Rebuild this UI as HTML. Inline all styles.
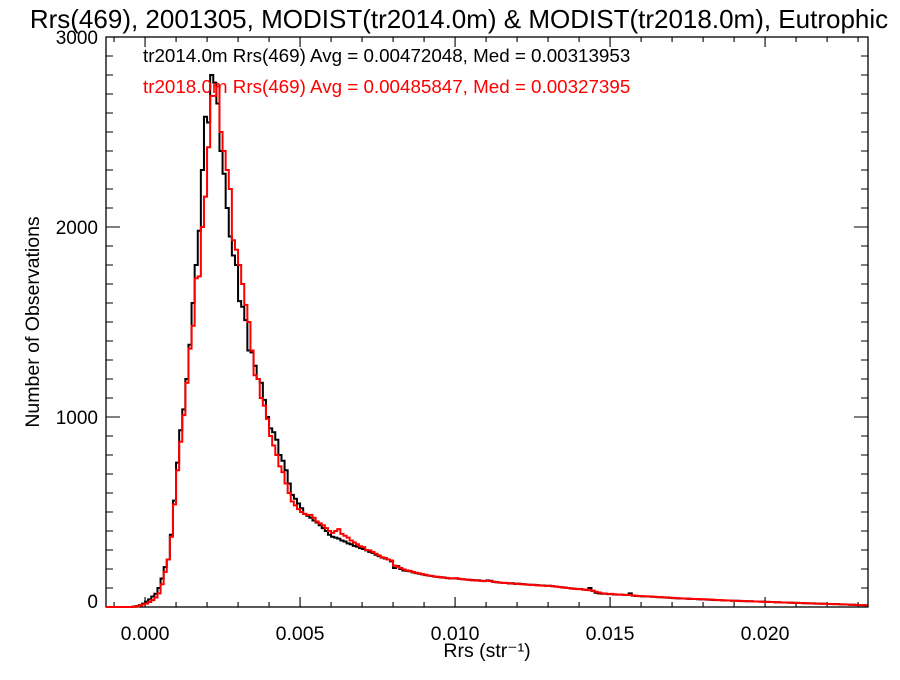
<!DOCTYPE html>
<html><head><meta charset="utf-8"><style>
body{margin:0;background:#fff;}
svg text{font-family:"Liberation Sans",sans-serif;}
</style></head><body>
<svg id="chart" width="900" height="675" xmlns="http://www.w3.org/2000/svg">
<rect width="900" height="675" fill="#fff"/>
<text x="459" y="28" font-size="26" text-anchor="middle">Rrs(469), 2001305, MODIST(tr2014.0m) &amp; MODIST(tr2018.0m), Eutrophic</text>
<text transform="translate(39,322) rotate(-90)" font-size="19.5" text-anchor="middle">Number of Observations</text>
<text x="487" y="657" font-size="19.5" text-anchor="middle">Rrs (str⁻¹)</text>
<g id="axes"></g>
<g id="series"></g>
<text x="143" y="62" font-size="18.8" fill="#000">tr2014.0m Rrs(469) Avg = 0.00472048, Med = 0.00313953</text>
<text x="143" y="93" font-size="18.8" fill="#f00">tr2018.0m Rrs(469) Avg = 0.00485847, Med = 0.00327395</text>
</svg>
<script>
const binStart = -0.0005;
const binWidth = 0.0001;
const xTicks = [0, 0.005, 0.010, 0.015, 0.020];
const xTickLabels = ["0.000","0.005","0.010","0.015","0.020"];
const yTicks = [0, 1000, 2000, 3000];
const yTickLabels = ["0","1000","2000","3000"];
const blackCounts = [0,2,5,10,18,
28,40,55,70,100,150,210,250,380,560,
760,930,1040,1200,1380,1600,1800,1980,2300,2580,
2550,2800,2760,2650,2400,2280,2100,1950,1850,1800,
1610,1580,1510,1350,1340,1270,1200,1180,1090,1000,
940,920,880,800,770,720,650,590,570,545,
520,490,480,470,455,445,430,415,400,380,
370,365,360,350,345,335,330,322,318,310,
305,298,290,285,275,268,260,255,250,240,
205,215,200,192,190,188,182,178,175,172,
168,165,163,160,158,156,155,152,150,150,
150,148,146,145,143,142,140,141,138,136,
140,138,132,130,128,127,126,124,125,122,
123,121,120,118,117,116,115,114,113,112,
112,110,108,106,104,102,100,98,96,95,
95,92,90,100,85,75,72,70,70,68,
68,66,65,66,64,63,72,60,58,57,
56,55,56,54,53,52,51,50,50,48,
47,46,45,45,44,43,42,42,41,40,
40,39,38,37,36,36,35,34,34,33,
33,32,31,31,30,30,29,29,28,28,
27,26,26,25,25,24,24,23,23,22,
22,21,20,20,19,19,18,18,17,17,
16,16,15,15,14,13,13,12,12,11,
10,10,9];
const redCounts = [0,1,4,8,14,
18,26,36,50,72,120,185,250,370,540,
720,870,1010,1180,1360,1480,1730,1740,2000,2160,
2420,2690,2690,2740,2500,2400,2300,2200,1930,1880,
1800,1700,1590,1500,1350,1220,1200,1100,1060,990,
900,850,800,740,710,650,600,555,535,515,
500,490,485,485,470,450,440,430,415,400,
390,400,410,385,375,365,350,340,330,320,
315,300,298,290,280,272,262,258,250,245,
218,212,205,198,193,190,185,180,177,173,
170,166,164,160,159,157,154,153,151,150,
152,148,147,144,144,140,141,139,137,137,
138,136,133,131,129,126,127,125,123,123,
122,120,119,118,116,117,114,113,112,111,
111,109,107,105,103,101,100,97,96,94,
94,91,92,88,86,80,76,72,71,69,
69,67,66,65,64,63,64,61,59,58,
57,56,55,55,53,52,52,51,49,49,
48,47,46,45,45,44,43,42,42,41,
40,40,39,38,37,37,35,35,34,33,
33,32,32,31,30,30,29,29,28,27,
27,27,26,25,25,24,24,23,22,22,
22,21,21,20,19,19,18,18,17,17,
16,16,15,15,14,14,13,12,12,11,
10,10,9];
const L=106,R=868,T=37,B=607;
const xMin=-0.00126,xMax=0.02332,yMin=0,yMax=3000;
function xs(v){return L+(v-xMin)/(xMax-xMin)*(R-L);}
function ys(v){return B-(v-yMin)/(yMax-yMin)*(B-T);}
const NS="http://www.w3.org/2000/svg";
const axes=document.getElementById('axes');
function mk(tag,attrs,parent){const e=document.createElementNS(NS,tag);for(const k in attrs)e.setAttribute(k,attrs[k]);parent.appendChild(e);return e;}
const frame=mk('rect',{x:L,y:T,width:R-L,height:B-T,fill:'none',stroke:'#000','stroke-width':1.3},axes);


let tp='';
for(let k=-1;k<=23;k++){const v=k*0.001;const x=xs(v);if(x<L||x>R)continue;const len=(k%5===0)?10:5;tp+=`M${x} ${B}V${B-len}M${x} ${T}V${T+len}`;}
for(let k=0;k<=30;k++){const y=ys(k*100);const len=(k%10===0)?14:7;tp+=`M${L} ${y}H${L+len}M${R} ${y}H${R-len}`;}
const ticks=mk('path',{d:tp,stroke:'#000','stroke-width':1.1,fill:'none'},axes);


xTicks.forEach((v,i)=>{const t=mk('text',{x:xs(v),y:B+33,'font-size':19.5,'text-anchor':'middle'},axes);t.textContent=xTickLabels[i];

});
yTicks.forEach((v,i)=>{let c=ys(v);if(v===0)c=601;const t=mk('text',{x:L-8,y:c+7,'font-size':19,'text-anchor':'end'},axes);t.textContent=yTickLabels[i];

});
const series=document.getElementById('series');
function stepPath(counts){let d=`M${L} ${ys(0)}H${xs(binStart)}`;counts.forEach((c,i)=>{const x1=xs(binStart+(i+1)*binWidth);d+=`V${ys(c)}H${Math.min(x1,R)}`;});return d;}
const pb=mk('path',{d:stepPath(blackCounts),stroke:'#000','stroke-width':2,fill:'none'},series);


const pr=mk('path',{d:stepPath(redCounts),stroke:'#f00','stroke-width':2,fill:'none'},series);


</script>
</body></html>
